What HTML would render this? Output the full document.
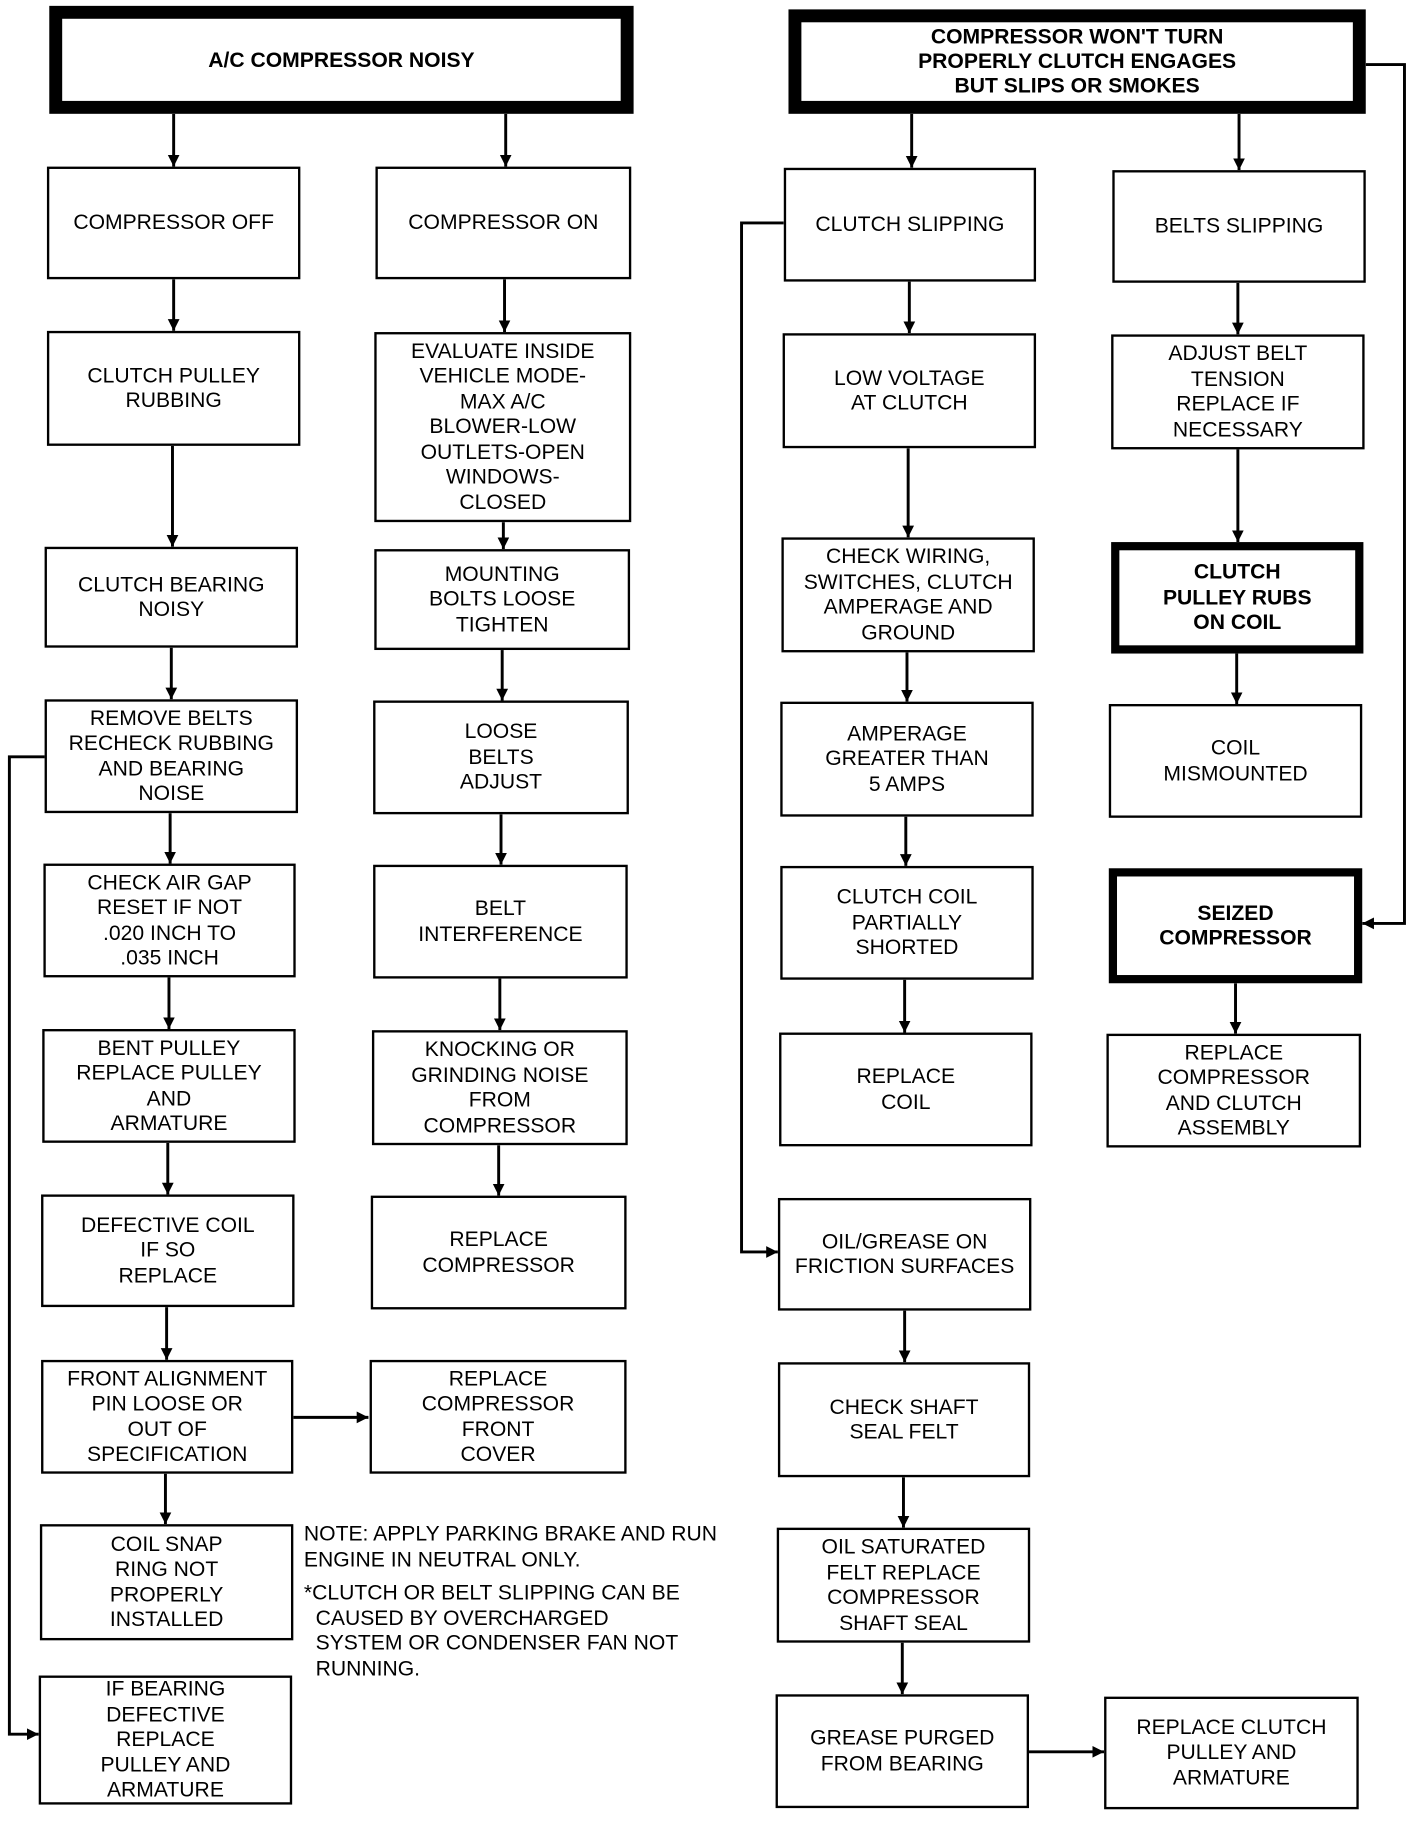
<!DOCTYPE html>
<html><head><meta charset="utf-8"><style>
html,body{margin:0;padding:0;background:#fff;}
#root{position:relative;width:1200px;height:1563px;transform:scale(1.173333);transform-origin:0 0;overflow:hidden;}
.b{position:absolute;box-sizing:border-box;border:2.5px solid #000;background:#fff;display:flex;align-items:center;justify-content:center;text-align:center;font-family:"Liberation Sans",sans-serif;font-size:18px;line-height:21.5px;color:#000;}
.t{border-width:11px;font-weight:bold;font-size:18px;line-height:21px;}
.k{border-width:7px;font-weight:bold;}
svg{position:absolute;left:0;top:0;}
.note{position:absolute;font-family:"Liberation Sans",sans-serif;font-size:18px;line-height:21.5px;white-space:pre;}
</style></head><body><div id="root">
<svg width="1200" height="1563" viewBox="0 0 1200 1563">
<defs><marker id="a" viewBox="0 0 10 10" refX="10" refY="5" markerWidth="10" markerHeight="12" markerUnits="userSpaceOnUse" orient="auto"><path d="M0,0L10,5L0,10z"/></marker></defs>
<g stroke="#000" stroke-width="2.5" fill="none" marker-end="url(#a)">
<path d="M148,97V142"/><path d="M431,97V142"/>
<path d="M148,238V282"/><path d="M147,380V466"/><path d="M146,552V596"/><path d="M145,693V736"/><path d="M144,833V877"/><path d="M143,974V1018"/><path d="M142,1114V1159"/><path d="M141,1256V1299"/>
<path d="M430,238V283"/><path d="M429,445V468"/><path d="M428,554V597"/><path d="M427,694V737"/><path d="M426,834V878"/><path d="M425,976V1019"/>
<path d="M250,1208H314"/>
<path d="M38,645H8V1478H33"/>
<path d="M777,97V143"/><path d="M1056,97V145"/>
<path d="M775,240V284"/><path d="M774,382V458"/><path d="M773,556V598"/><path d="M772,696V738"/><path d="M771,835V880"/><path d="M771,1117V1161"/><path d="M770,1259V1302"/><path d="M769,1400V1444"/>
<path d="M668,190H632V1067H663"/>
<path d="M1055,241V285"/><path d="M1055,383V462"/><path d="M1054,557V600"/><path d="M1053,838V881"/>
<path d="M877,1493H941"/>
<path d="M1164,55H1197V787H1161"/>
</g></svg>
<div class="b t" style="left:42px;top:5px;width:498px;height:92px">A/C COMPRESSOR NOISY</div>
<div class="b t" style="left:672px;top:8px;width:492px;height:89px">COMPRESSOR WON'T TURN<br>PROPERLY CLUTCH ENGAGES<br>BUT SLIPS OR SMOKES</div>

<div class="b" style="left:40px;top:142px;width:216px;height:96px">COMPRESSOR OFF</div>
<div class="b" style="left:40px;top:282px;width:216px;height:98px">CLUTCH PULLEY<br>RUBBING</div>
<div class="b" style="left:38px;top:466px;width:216px;height:86px">CLUTCH BEARING<br>NOISY</div>
<div class="b" style="left:38px;top:596px;width:216px;height:97px">REMOVE BELTS<br>RECHECK RUBBING<br>AND BEARING<br>NOISE</div>
<div class="b" style="left:37px;top:736px;width:215px;height:97px">CHECK AIR GAP<br>RESET IF NOT<br>.020 INCH TO<br>.035 INCH</div>
<div class="b" style="left:36px;top:877px;width:216px;height:97px">BENT PULLEY<br>REPLACE PULLEY<br>AND<br>ARMATURE</div>
<div class="b" style="left:35px;top:1018px;width:216px;height:96px">DEFECTIVE COIL<br>IF SO<br>REPLACE</div>
<div class="b" style="left:35px;top:1159px;width:215px;height:97px">FRONT ALIGNMENT<br>PIN LOOSE OR<br>OUT OF<br>SPECIFICATION</div>
<div class="b" style="left:34px;top:1299px;width:216px;height:99px">COIL SNAP<br>RING NOT<br>PROPERLY<br>INSTALLED</div>
<div class="b" style="left:33px;top:1428px;width:216px;height:110px">IF BEARING<br>DEFECTIVE<br>REPLACE<br>PULLEY AND<br>ARMATURE</div>

<div class="b" style="left:320px;top:142px;width:218px;height:96px">COMPRESSOR ON</div>
<div class="b" style="left:319px;top:283px;width:219px;height:162px">EVALUATE INSIDE<br>VEHICLE MODE-<br>MAX A/C<br>BLOWER-LOW<br>OUTLETS-OPEN<br>WINDOWS-<br>CLOSED</div>
<div class="b" style="left:319px;top:468px;width:218px;height:86px">MOUNTING<br>BOLTS LOOSE<br>TIGHTEN</div>
<div class="b" style="left:318px;top:597px;width:218px;height:97px">LOOSE<br>BELTS<br>ADJUST</div>
<div class="b" style="left:318px;top:737px;width:217px;height:97px">BELT<br>INTERFERENCE</div>
<div class="b" style="left:317px;top:878px;width:218px;height:98px">KNOCKING OR<br>GRINDING NOISE<br>FROM<br>COMPRESSOR</div>
<div class="b" style="left:316px;top:1019px;width:218px;height:97px">REPLACE<br>COMPRESSOR</div>
<div class="b" style="left:315px;top:1159px;width:219px;height:97px">REPLACE<br>COMPRESSOR<br>FRONT<br>COVER</div>

<div class="b" style="left:668px;top:143px;width:215px;height:97px">CLUTCH SLIPPING</div>
<div class="b" style="left:667px;top:284px;width:216px;height:98px">LOW VOLTAGE<br>AT CLUTCH</div>
<div class="b" style="left:666px;top:458px;width:216px;height:98px">CHECK WIRING,<br>SWITCHES, CLUTCH<br>AMPERAGE AND<br>GROUND</div>
<div class="b" style="left:665px;top:598px;width:216px;height:98px">AMPERAGE<br>GREATER THAN<br>5 AMPS</div>
<div class="b" style="left:665px;top:738px;width:216px;height:97px">CLUTCH COIL<br>PARTIALLY<br>SHORTED</div>
<div class="b" style="left:664px;top:880px;width:216px;height:97px">REPLACE<br>COIL</div>
<div class="b" style="left:663px;top:1021px;width:216px;height:96px">OIL/GREASE ON<br>FRICTION SURFACES</div>
<div class="b" style="left:663px;top:1161px;width:215px;height:98px">CHECK SHAFT<br>SEAL FELT</div>
<div class="b" style="left:662px;top:1302px;width:216px;height:98px">OIL SATURATED<br>FELT REPLACE<br>COMPRESSOR<br>SHAFT SEAL</div>
<div class="b" style="left:661px;top:1444px;width:216px;height:97px">GREASE PURGED<br>FROM BEARING</div>

<div class="b" style="left:948px;top:145px;width:216px;height:96px">BELTS SLIPPING</div>
<div class="b" style="left:947px;top:285px;width:216px;height:98px">ADJUST BELT<br>TENSION<br>REPLACE IF<br>NECESSARY</div>
<div class="b k" style="left:947px;top:462px;width:215px;height:95px">CLUTCH<br>PULLEY RUBS<br>ON COIL</div>
<div class="b" style="left:945px;top:600px;width:216px;height:97px">COIL<br>MISMOUNTED</div>
<div class="b k" style="left:945px;top:740px;width:216px;height:98px">SEIZED<br>COMPRESSOR</div>
<div class="b" style="left:943px;top:881px;width:217px;height:97px">REPLACE<br>COMPRESSOR<br>AND CLUTCH<br>ASSEMBLY</div>
<div class="b" style="left:941px;top:1446px;width:217px;height:96px">REPLACE CLUTCH<br>PULLEY AND<br>ARMATURE</div>

<div class="note" style="left:259px;top:1297px">NOTE: APPLY PARKING BRAKE AND RUN
ENGINE IN NEUTRAL ONLY.</div>
<div class="note" style="left:259px;top:1347px">*CLUTCH OR BELT SLIPPING CAN BE
  CAUSED BY OVERCHARGED
  SYSTEM OR CONDENSER FAN NOT
  RUNNING.</div>
</div></body></html>
